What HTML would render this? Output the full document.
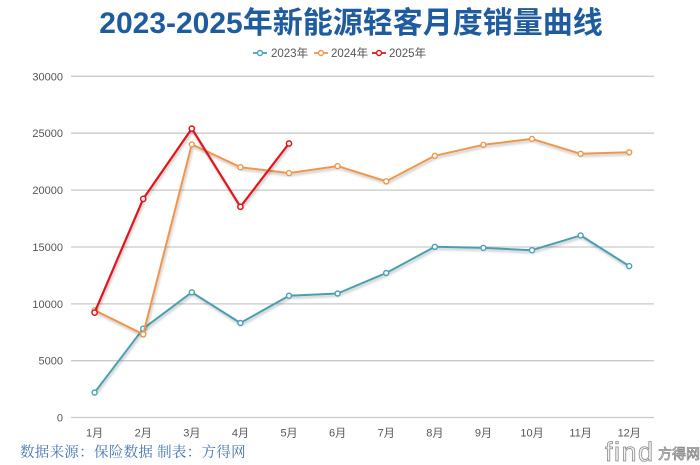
<!DOCTYPE html>
<html>
<head>
<meta charset="utf-8">
<style>
  html,body{margin:0;padding:0;background:#fff;}
  body{width:700px;height:465px;overflow:hidden;position:relative;}
  svg{position:absolute;left:0;top:0;}
</style>
</head>
<body>
<svg width="700" height="465" viewBox="0 0 700 465" xmlns="http://www.w3.org/2000/svg">
  <defs>
    <filter id="sh" x="-10%" y="-10%" width="120%" height="130%">
      <feGaussianBlur in="SourceAlpha" stdDeviation="1.2"/>
      <feOffset dx="1" dy="2" result="b"/>
      <feComponentTransfer><feFuncA type="linear" slope="0.25"/></feComponentTransfer>
      <feMerge><feMergeNode/><feMergeNode in="SourceGraphic"/></feMerge>
    </filter>
  </defs>

  <!-- Title -->
  <text x="351" y="33" text-anchor="middle" font-family="'Liberation Sans','Noto Sans CJK SC',sans-serif" font-size="30" font-weight="bold" fill="#1f5c9f">2023-2025年新能源轻客月度销量曲线</text>

  <!-- Legend -->
  <g font-family="'Liberation Sans','Noto Sans CJK SC',sans-serif" font-size="11.5" fill="#555">
    <line x1="253" y1="53" x2="267" y2="53" stroke="#4aa0b4" stroke-width="1.8"/>
    <circle cx="260" cy="53" r="2.5" fill="#fff" stroke="#4aa0b4" stroke-width="1.4"/>
    <text x="271" y="57">2023年</text>
    <line x1="314" y1="53" x2="328" y2="53" stroke="#f0964b" stroke-width="1.8"/>
    <circle cx="321" cy="53" r="2.5" fill="#fff" stroke="#f0964b" stroke-width="1.4"/>
    <text x="331" y="57">2024年</text>
    <line x1="372" y1="53" x2="386" y2="53" stroke="#e0141e" stroke-width="1.8"/>
    <circle cx="379" cy="53" r="2.5" fill="#fff" stroke="#e0141e" stroke-width="1.4"/>
    <text x="389" y="57">2025年</text>
  </g>

  <!-- Grid -->
  <g stroke="#c9c9c9" stroke-width="1.3">
    <line x1="71" y1="76.3" x2="654" y2="76.3"/>
    <line x1="71" y1="133.2" x2="654" y2="133.2"/>
    <line x1="71" y1="190.1" x2="654" y2="190.1"/>
    <line x1="71" y1="247" x2="654" y2="247"/>
    <line x1="71" y1="303.9" x2="654" y2="303.9"/>
    <line x1="71" y1="360.7" x2="654" y2="360.7"/>
    <line x1="71" y1="417.5" x2="654" y2="417.5"/>
  </g>

  <!-- Y labels -->
  <g font-family="'Liberation Sans',sans-serif" font-size="11" fill="#555" text-anchor="end">
    <text x="63" y="80.3">30000</text>
    <text x="63" y="137.2">25000</text>
    <text x="63" y="194.1">20000</text>
    <text x="63" y="251">15000</text>
    <text x="63" y="307.9">10000</text>
    <text x="63" y="364.7">5000</text>
    <text x="63" y="421.5">0</text>
  </g>

  <!-- X labels -->
  <g font-family="'Liberation Sans','Noto Sans CJK SC',sans-serif" font-size="11" fill="#555" text-anchor="middle">
    <text x="94.6" y="436.5">1月</text>
    <text x="143.2" y="436.5">2月</text>
    <text x="191.8" y="436.5">3月</text>
    <text x="240.4" y="436.5">4月</text>
    <text x="289" y="436.5">5月</text>
    <text x="337.6" y="436.5">6月</text>
    <text x="386.2" y="436.5">7月</text>
    <text x="434.8" y="436.5">8月</text>
    <text x="483.4" y="436.5">9月</text>
    <text x="532" y="436.5">10月</text>
    <text x="580.6" y="436.5">11月</text>
    <text x="629.2" y="436.5">12月</text>
  </g>

  <!-- 2023 -->
  <g filter="url(#sh)">
    <polyline fill="none" stroke="#4a9fb2" stroke-width="2" stroke-linejoin="round"
      points="94.6,392.5 143.2,328.7 191.8,292.3 240.4,323.0 289,295.7 337.6,293.5 386.2,273.0 434.8,246.8 483.4,247.9 532,250.2 580.6,235.4 629.2,266.1"/>
  </g>
  <g fill="#fff" stroke="#4a9fb2" stroke-width="1.4">
    <circle cx="94.6" cy="392.5" r="2.5"/><circle cx="143.2" cy="328.7" r="2.5"/><circle cx="191.8" cy="292.3" r="2.5"/>
    <circle cx="240.4" cy="323.0" r="2.5"/><circle cx="289" cy="295.7" r="2.5"/><circle cx="337.6" cy="293.5" r="2.5"/>
    <circle cx="386.2" cy="273.0" r="2.5"/><circle cx="434.8" cy="246.8" r="2.5"/><circle cx="483.4" cy="247.9" r="2.5"/>
    <circle cx="532" cy="250.2" r="2.5"/><circle cx="580.6" cy="235.4" r="2.5"/><circle cx="629.2" cy="266.1" r="2.5"/>
  </g>

  <!-- 2024 -->
  <g filter="url(#sh)">
    <polyline fill="none" stroke="#f0964b" stroke-width="2" stroke-linejoin="round"
      points="94.6,310.3 143.2,334.3 191.8,144.4 240.4,167.2 289,173.1 337.6,166.1 386.2,181.3 434.8,155.8 483.4,144.8 532,138.9 580.6,153.8 629.2,152.3"/>
  </g>
  <g fill="#fff" stroke="#f0964b" stroke-width="1.4">
    <circle cx="94.6" cy="310.3" r="2.5"/><circle cx="143.2" cy="334.3" r="2.5"/><circle cx="191.8" cy="144.4" r="2.5"/>
    <circle cx="240.4" cy="167.2" r="2.5"/><circle cx="289" cy="173.1" r="2.5"/><circle cx="337.6" cy="166.1" r="2.5"/>
    <circle cx="386.2" cy="181.3" r="2.5"/><circle cx="434.8" cy="155.8" r="2.5"/><circle cx="483.4" cy="144.8" r="2.5"/>
    <circle cx="532" cy="138.9" r="2.5"/><circle cx="580.6" cy="153.8" r="2.5"/><circle cx="629.2" cy="152.3" r="2.5"/>
  </g>

  <!-- 2025 -->
  <g filter="url(#sh)">
    <polyline fill="none" stroke="#e0141e" stroke-width="2.2" stroke-linejoin="round"
      points="94.6,312.6 143.2,198.9 191.8,128.6 240.4,206.8 289,143.5"/>
  </g>
  <g fill="#fff" stroke="#e0141e" stroke-width="1.5">
    <circle cx="94.6" cy="312.6" r="2.6"/><circle cx="143.2" cy="198.9" r="2.6"/><circle cx="191.8" cy="128.6" r="2.6"/>
    <circle cx="240.4" cy="206.8" r="2.6"/><circle cx="289" cy="143.5" r="2.6"/>
  </g>

  <!-- Footer -->
  <text x="20" y="457" font-family="'Liberation Serif','Noto Serif CJK SC',serif" font-size="14.5" fill="#4673b0" letter-spacing="0.3">数据来源：保险数据 制表：方得网</text>

  <!-- Watermark -->
  <g font-family="'Liberation Sans','Noto Sans CJK SC',sans-serif" fill="#f4f4f4" stroke="#8a8a8a" stroke-width="0.8">
    <text x="605" y="461" font-size="27" letter-spacing="1.5">find</text>
    <text x="658" y="459" font-size="14">方得网</text>
  </g>
</svg>
</body>
</html>
